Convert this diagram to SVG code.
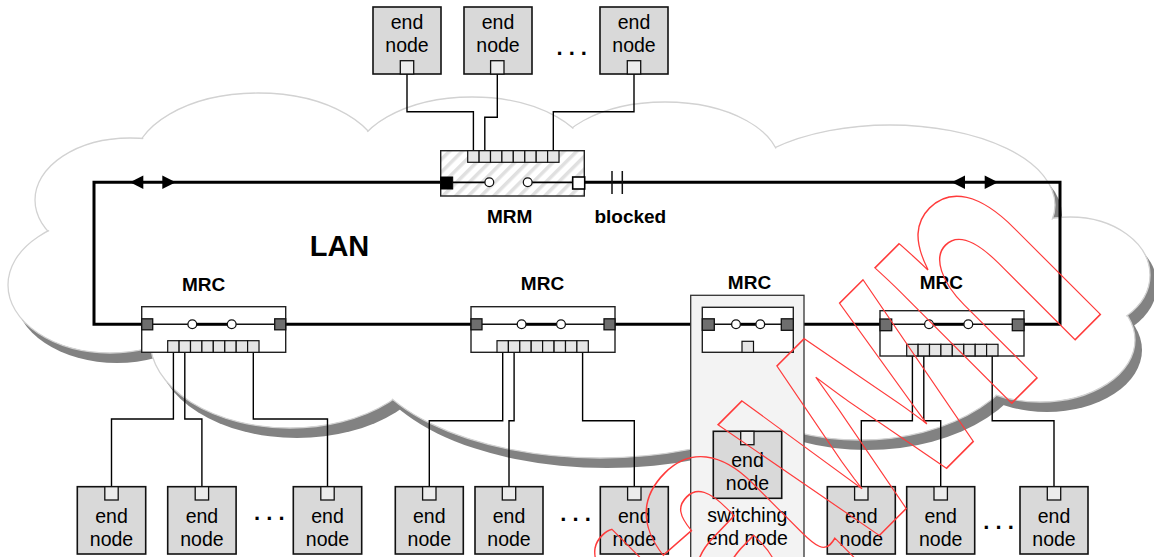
<svg xmlns="http://www.w3.org/2000/svg" width="1154" height="557" viewBox="0 0 1154 557">
<defs>
<style>
.en{font-family:"Liberation Sans",Arial,sans-serif;font-size:19.5px;text-anchor:middle;fill:#000}
.lb{font-family:"Liberation Sans",Arial,sans-serif;font-size:19px;font-weight:bold;text-anchor:middle;fill:#000}
.dots{font-family:"Liberation Sans",Arial,sans-serif;font-size:22px;font-weight:bold;text-anchor:middle;fill:#000}
.nb{fill:#d9d9d9;stroke:#111;stroke-width:1.6}
.pt{fill:#ececec;stroke:#111;stroke-width:1.3}
.box{fill:#fff;stroke:#222;stroke-width:1.4}
.mp{fill:#6e6e6e;stroke:#111;stroke-width:1.3}
.cell{fill:#e6e6e6;stroke:#111;stroke-width:1.2}
.sw{fill:#fff;stroke:#111;stroke-width:1.3}
.thin{stroke:#111;stroke-width:1.5;fill:none}
.thick{stroke:#000;stroke-width:3;fill:none}
.wire{stroke:#000;stroke-width:1.4;fill:none}
.cl{fill:#fff;stroke:#d2d2d2;stroke-width:1.3}
.clf{fill:#fff;stroke:none}
.sh{fill:#828282}
</style>
<pattern id="hatch" patternUnits="userSpaceOnUse" width="9" height="9" patternTransform="rotate(45)">
<rect width="9" height="9" fill="#fff"/><rect width="3.5" height="9" fill="#e0e0e0"/>
</pattern>
<g id="cloudshape">
<ellipse cx="258" cy="165" rx="125" ry="72"/>
<ellipse cx="130" cy="200" rx="95" ry="62"/>
<ellipse cx="110" cy="285" rx="102" ry="68"/>
<ellipse cx="290" cy="340" rx="140" ry="88"/>
<ellipse cx="600" cy="340" rx="240" ry="118"/>
<ellipse cx="860" cy="330" rx="170" ry="110"/>
<ellipse cx="1040" cy="340" rx="95" ry="62"/>
<ellipse cx="1070" cy="275" rx="80" ry="58"/>
<ellipse cx="890" cy="205" rx="165" ry="80"/>
<ellipse cx="665" cy="165" rx="115" ry="63"/>
<ellipse cx="472" cy="165" rx="120" ry="68"/>
</g>
</defs>

<g id="cloud">
<g class="sh" transform="translate(7,10)">
<use href="#cloudshape"/>
<polygon points="258,165 472,165 665,165 890,205 1070,275 1040,340 860,330 600,340 290,340 110,285 130,200"/>
</g>
<g class="cl"><use href="#cloudshape"/></g>
<g class="clf">
<ellipse cx="258" cy="165" rx="123.8" ry="70.8"/>
<ellipse cx="130" cy="200" rx="93.8" ry="60.8"/>
<ellipse cx="110" cy="285" rx="100.8" ry="66.8"/>
<ellipse cx="290" cy="340" rx="138.8" ry="86.8"/>
<ellipse cx="600" cy="340" rx="238.8" ry="116.8"/>
<ellipse cx="860" cy="330" rx="168.8" ry="108.8"/>
<ellipse cx="1040" cy="340" rx="93.8" ry="60.8"/>
<ellipse cx="1070" cy="275" rx="78.8" ry="56.8"/>
<ellipse cx="890" cy="205" rx="163.8" ry="78.8"/>
<ellipse cx="665" cy="165" rx="113.8" ry="61.8"/>
<ellipse cx="472" cy="165" rx="118.8" ry="66.8"/>
<polygon points="258,165 472,165 665,165 890,205 1070,275 1040,340 860,330 600,340 290,340 110,285 130,200"/>
</g>
<text class="lb" x="339.5" y="256" style="font-size:29px">LAN</text>
</g>

<g id="connectors">
<path class="thick" d="M441,182.3 H94 V324.3 H1060 V182.3 H585"/>
<polygon points="130,182.3 143.3,175.6 143.3,189"/>
<polygon points="175.7,182.3 162.3,175.6 162.3,189"/>
<polygon points="951.7,182.3 965,175.6 965,189"/>
<polygon points="998,182.3 984.7,175.6 984.7,189"/>
<path class="thin" d="M612,171 V194 M622.3,171 V194"/>
<path class="wire" d="M407,74 V111.7 H473.4 V151 M497.3,74 V117.3 H484.8 V151 M634,74 V111.7 H553.3 V151"/>
<path class="wire" d="M173.4,352.3 V419 H111.5 V486.7 M184.8,352.3 V419 H201.9 V486.7 M253.3,352.3 V419 H327.5 V486.7"/>
<path class="wire" d="M502.7,352.3 V420.7 H429.3 V486.7 M514.1,352.3 V420.7 H509 V486.7 M582.6,352.3 V420.7 H634.3 V486.7"/>
<path class="wire" d="M747.3,352.3 V431.3"/>
<path class="wire" d="M912.4,356 V420.7 H861.3 V486.7 M923.8,356 V420.7 H940.7 V486.7 M992.2,356 V420.7 H1054 V486.7"/>
</g>

<g id="mrm">
<rect x="440.7" y="150.7" width="143.6" height="45.3" fill="url(#hatch)" stroke="#222" stroke-width="1.4"/>
<g>
<rect class="cell" x="467.7" y="150.7" width="11.41" height="11.6"/>
<rect class="cell" x="479.1" y="150.7" width="11.41" height="11.6"/>
<rect class="cell" x="490.5" y="150.7" width="11.41" height="11.6"/>
<rect class="cell" x="501.9" y="150.7" width="11.41" height="11.6"/>
<rect class="cell" x="513.3" y="150.7" width="11.41" height="11.6"/>
<rect class="cell" x="524.8" y="150.7" width="11.41" height="11.6"/>
<rect class="cell" x="536.2" y="150.7" width="11.41" height="11.6"/>
<rect class="cell" x="547.6" y="150.7" width="11.41" height="11.6"/>
</g>
<path stroke="#000" stroke-width="1.8" d="M452.7,182.3 H485 M532,182.3 H572.7"/>
<circle class="sw" cx="489.3" cy="182.3" r="4.4"/>
<circle class="sw" cx="527.7" cy="182.3" r="4.4"/>
<rect x="440.7" y="177" width="12" height="12" fill="#000" stroke="#000" stroke-width="1"/>
<rect x="572.7" y="177" width="12" height="12" fill="#fff" stroke="#000" stroke-width="1.6"/>
<text class="lb" x="509.7" y="223">MRM</text>
<text class="lb" x="630.3" y="223">blocked</text>
</g>

<g id="mrc1">
<rect class="box" x="141.7" y="306.7" width="144" height="45.6"/>
<path class="thin" d="M152.7,324.3 H188 M236,324.3 H274.7"/>
<path class="thick" d="M196.6,324.3 H227.4"/>
<circle class="sw" cx="192.3" cy="324.3" r="4.4"/>
<circle class="sw" cx="231.7" cy="324.3" r="4.4"/>
<rect class="mp" x="141.7" y="318.8" width="11" height="11"/>
<rect class="mp" x="274.7" y="318.8" width="11" height="11"/>
<rect class="cell" x="167.7" y="340.7" width="11.41" height="11.6"/>
<rect class="cell" x="179.1" y="340.7" width="11.41" height="11.6"/>
<rect class="cell" x="190.5" y="340.7" width="11.41" height="11.6"/>
<rect class="cell" x="201.9" y="340.7" width="11.41" height="11.6"/>
<rect class="cell" x="213.3" y="340.7" width="11.41" height="11.6"/>
<rect class="cell" x="224.8" y="340.7" width="11.41" height="11.6"/>
<rect class="cell" x="236.2" y="340.7" width="11.41" height="11.6"/>
<rect class="cell" x="247.6" y="340.7" width="11.41" height="11.6"/>
<text class="lb" x="203.7" y="290.7">MRC</text>
</g>

<g id="mrc2">
<rect class="box" x="471" y="306.7" width="144" height="45.6"/>
<path class="thin" d="M482,324.3 H517.3 M565.3,324.3 H604"/>
<path class="thick" d="M525.9,324.3 H556.7"/>
<circle class="sw" cx="521.6" cy="324.3" r="4.4"/>
<circle class="sw" cx="561" cy="324.3" r="4.4"/>
<rect class="mp" x="471" y="318.8" width="11" height="11"/>
<rect class="mp" x="604" y="318.8" width="11" height="11"/>
<rect class="cell" x="497" y="340.7" width="11.41" height="11.6"/>
<rect class="cell" x="508.4" y="340.7" width="11.41" height="11.6"/>
<rect class="cell" x="519.8" y="340.7" width="11.41" height="11.6"/>
<rect class="cell" x="531.2" y="340.7" width="11.41" height="11.6"/>
<rect class="cell" x="542.6" y="340.7" width="11.41" height="11.6"/>
<rect class="cell" x="554.1" y="340.7" width="11.41" height="11.6"/>
<rect class="cell" x="565.5" y="340.7" width="11.41" height="11.6"/>
<rect class="cell" x="576.9" y="340.7" width="11.41" height="11.6"/>
<text class="lb" x="542.5" y="290">MRC</text>
</g>

<g id="switching-end-node">
<rect x="690.7" y="295.3" width="113.3" height="265" fill="#f3f3f3" stroke="#333" stroke-width="1.3"/>
<rect class="box" x="702.3" y="307.3" width="91" height="45"/>
<path class="thin" d="M714.3,324.3 H731.7 M764.6,324.3 H781.3"/>
<path class="thick" d="M740.3,324.3 H756"/>
<circle class="sw" cx="736" cy="324.3" r="4.4"/>
<circle class="sw" cx="760.3" cy="324.3" r="4.4"/>
<rect class="mp" x="702.3" y="318.8" width="12" height="11.5"/>
<rect class="mp" x="781.3" y="318.8" width="12" height="11.5"/>
<rect class="cell" x="742" y="341.3" width="11.5" height="11"/>
<rect class="nb" x="713.3" y="431.3" width="68.4" height="67"/>
<rect class="pt" x="740.7" y="431.3" width="13.3" height="13.4"/>
<text class="en" x="747.5" y="466.5">end</text>
<text class="en" x="747.5" y="489.5">node</text>
<text class="en" x="747.3" y="521.5">switching</text>
<text class="en" x="747.3" y="545">end node</text>
<text class="lb" x="749.5" y="289.3">MRC</text>
</g>

<g id="mrc4">
<rect class="box" x="880" y="310.7" width="144" height="45.3"/>
<path class="thin" d="M891.7,324.3 H924.7 M972.6,324.3 H1012.3"/>
<path class="thick" d="M933.3,324.3 H964"/>
<circle class="sw" cx="929" cy="324.3" r="4.4"/>
<circle class="sw" cx="968.3" cy="324.3" r="4.4"/>
<rect class="mp" x="880" y="319" width="11.7" height="11.7"/>
<rect class="mp" x="1012.3" y="319" width="11.7" height="11.7"/>
<rect class="cell" x="906.7" y="344.3" width="11.41" height="11.6"/>
<rect class="cell" x="918.1" y="344.3" width="11.41" height="11.6"/>
<rect class="cell" x="929.5" y="344.3" width="11.41" height="11.6"/>
<rect class="cell" x="940.9" y="344.3" width="11.41" height="11.6"/>
<rect class="cell" x="952.3" y="344.3" width="11.41" height="11.6"/>
<rect class="cell" x="963.8" y="344.3" width="11.41" height="11.6"/>
<rect class="cell" x="975.2" y="344.3" width="11.41" height="11.6"/>
<rect class="cell" x="986.6" y="344.3" width="11.41" height="11.6"/>
<text class="lb" x="941.3" y="288.5">MRC</text>
</g>

<g id="top-end-nodes">
<g id="t1"><rect class="nb" x="373" y="7" width="68" height="67"/><rect class="pt" x="400.3" y="60.7" width="13.4" height="13.3"/><text class="en" x="407" y="28.5">end</text><text class="en" x="407" y="52">node</text></g>
<g id="t2"><rect class="nb" x="464" y="7" width="68" height="67"/><rect class="pt" x="490.6" y="60.7" width="13.4" height="13.3"/><text class="en" x="498" y="28.5">end</text><text class="en" x="498" y="52">node</text></g>
<g id="t3"><rect class="nb" x="600" y="7" width="68" height="67"/><rect class="pt" x="627.3" y="60.7" width="13.4" height="13.3"/><text class="en" x="634" y="28.5">end</text><text class="en" x="634" y="52">node</text></g>
<text class="dots" x="571.7" y="54.5">. . .</text>
</g>

<g id="group1-end-nodes">
<g id="b1"><rect class="nb" x="77.3" y="486.7" width="68.4" height="67.3"/><rect class="pt" x="104.8" y="486.7" width="13.4" height="13.3"/><text class="en" x="111.5" y="522.5">end</text><text class="en" x="111.5" y="545.5">node</text></g>
<g id="b2"><rect class="nb" x="167.7" y="486.7" width="68.4" height="67.3"/><rect class="pt" x="195.2" y="486.7" width="13.4" height="13.3"/><text class="en" x="201.9" y="522.5">end</text><text class="en" x="201.9" y="545.5">node</text></g>
<g id="b3"><rect class="nb" x="293.3" y="486.7" width="68.4" height="67.3"/><rect class="pt" x="320.8" y="486.7" width="13.4" height="13.3"/><text class="en" x="327.5" y="522.5">end</text><text class="en" x="327.5" y="545.5">node</text></g>
<text class="dots" x="269.3" y="520">. . .</text>
</g>

<g id="group2-end-nodes">
<g id="c1"><rect class="nb" x="395.3" y="486.7" width="68" height="67.3"/><rect class="pt" x="422.6" y="486.7" width="13.4" height="13.3"/><text class="en" x="429.3" y="522.5">end</text><text class="en" x="429.3" y="545.5">node</text></g>
<g id="c2"><rect class="nb" x="475" y="486.7" width="68" height="67.3"/><rect class="pt" x="502.3" y="486.7" width="13.4" height="13.3"/><text class="en" x="509" y="522.5">end</text><text class="en" x="509" y="545.5">node</text></g>
<g id="c3"><rect class="nb" x="600.3" y="486.7" width="68" height="67.3"/><rect class="pt" x="627.6" y="486.7" width="13.4" height="13.3"/><text class="en" x="634.3" y="522.5">end</text><text class="en" x="634.3" y="545.5">node</text></g>
<text class="dots" x="575.5" y="521">. . .</text>
</g>

<g id="group4-end-nodes">
<g id="d1"><rect class="nb" x="827.3" y="486.7" width="68" height="67.3"/><rect class="pt" x="854.6" y="486.7" width="13.4" height="13.3"/><text class="en" x="861.3" y="522.5">end</text><text class="en" x="861.3" y="545.5">node</text></g>
<g id="d2"><rect class="nb" x="906.7" y="486.7" width="68" height="67.3"/><rect class="pt" x="934" y="486.7" width="13.4" height="13.3"/><text class="en" x="940.7" y="522.5">end</text><text class="en" x="940.7" y="545.5">node</text></g>
<g id="d3"><rect class="nb" x="1020" y="486.7" width="68" height="67.3"/><rect class="pt" x="1047.3" y="486.7" width="13.4" height="13.3"/><text class="en" x="1054" y="522.5">end</text><text class="en" x="1054" y="545.5">node</text></g>
<text class="dots" x="998.5" y="528.5">. . .</text>
</g>

<g id="watermark">
<text transform="translate(1111.9,302.9) rotate(-45) scale(0.72,1)" text-anchor="end" font-family="'Liberation Sans',Arial,sans-serif" font-weight="bold" font-size="364" fill="none" stroke="#ff3b3b" stroke-width="1.4" vector-effect="non-scaling-stroke">withdrawn</text>
</g>
</svg>
